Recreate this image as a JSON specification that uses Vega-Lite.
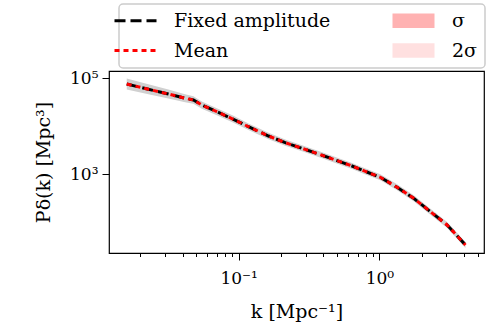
{
  "$schema": "https://vega.github.io/schema/vega-lite/v6.json",
  "width": 375,
  "height": 182,
  "autosize": {"type": "none"},
  "padding": {"left": 109, "top": 71, "right": 12, "bottom": 73},
  "background": "white",
  "config": {
    "view": {"stroke": "black", "strokeWidth": 1.2},
    "font": "DejaVu Serif"
  },
  "data": {
    "values": [
      {"k": 0.01601, "fixed": 74990, "mean": 74990, "lo": 57690, "hi": 97490},
      {"k": 0.02281, "fixed": 58210, "mean": 58210, "lo": 45830, "hi": 73930},
      {"k": 0.03165, "fixed": 46420, "mean": 46420, "lo": 37440, "hi": 57560},
      {"k": 0.04160, "fixed": 37790, "mean": 37790, "lo": 31230, "hi": 45730},
      {"k": 0.04768, "fixed": 34810, "mean": 34810, "lo": 29010, "hi": 41770},
      {"k": 0.05470, "fixed": 27380, "mean": 27380, "lo": 23010, "hi": 32580},
      {"k": 0.06995, "fixed": 19860, "mean": 19860, "lo": 16830, "hi": 23430},
      {"k": 0.09183, "fixed": 13800, "mean": 13800, "lo": 11690, "hi": 16280},
      {"k": 0.1174, "fixed": 9660, "mean": 9660, "lo": 8260, "hi": 11300},
      {"k": 0.1630, "fixed": 6190, "mean": 6190, "lo": 5310, "hi": 7210},
      {"k": 0.2143, "fixed": 4490, "mean": 4490, "lo": 3870, "hi": 5210},
      {"k": 0.2818, "fixed": 3430, "mean": 3430, "lo": 2970, "hi": 3960},
      {"k": 0.3698, "fixed": 2610, "mean": 2610, "lo": 2260, "hi": 3010},
      {"k": 0.4862, "fixed": 1958, "mean": 1958, "lo": 1695, "hi": 2260},
      {"k": 0.6393, "fixed": 1468, "mean": 1468, "lo": 1271, "hi": 1696},
      {"k": 0.7731, "fixed": 1172, "mean": 1172, "lo": 1015, "hi": 1354},
      {"k": 1.0165, "fixed": 853, "mean": 853, "lo": 739, "hi": 985},
      {"k": 1.337, "fixed": 528, "mean": 528, "lo": 457, "hi": 610},
      {"k": 1.754, "fixed": 312, "mean": 312, "lo": 270, "hi": 360},
      {"k": 2.307, "fixed": 164, "mean": 164, "lo": 142, "hi": 189},
      {"k": 3.033, "fixed": 86.6, "mean": 86.6, "lo": 75.0, "hi": 100.0},
      {"k": 4.094, "fixed": 33.2, "mean": 33.2, "lo": 28.7, "hi": 38.3}
    ]
  },
  "encoding": {
    "x": {
      "field": "k",
      "type": "quantitative",
      "scale": {"type": "log", "domain": [0.011975, 5.544], "nice": false},
      "axis": {
        "values": [0.02, 0.03, 0.04, 0.05, 0.06, 0.07, 0.08, 0.09, 0.1, 0.2, 0.3, 0.4, 0.5, 0.6, 0.7, 0.8, 0.9, 1, 2, 3, 4, 5],
        "labelExpr": "datum.value == 0.1 ? '10⁻¹' : (datum.value == 1 ? '10⁰' : '')",
        "tickSize": {"condition": {"test": "datum.value == 0.1 || datum.value == 1", "value": 7}, "value": 3.5},
        "domain": false,
        "grid": false,
        "tickColor": "black",
        "tickWidth": 1,
        "labelFont": "DejaVu Serif",
        "labelFontSize": 17,
        "labelColor": "black",
        "labelPadding": 10,
        "labelOverlap": false,
        "labelFlush": false,
        "labelBound": false,
        "title": "k [Mpc⁻¹]",
        "titleFont": "DejaVu Serif",
        "titleFontSize": 19,
        "titleFontWeight": "normal",
        "titleColor": "black",
        "titlePadding": 16
      }
    }
  },
  "layer": [
    {
      "mark": {"type": "area", "color": "#d0d0d0", "opacity": 1},
      "encoding": {
        "y": {
          "field": "lo",
          "type": "quantitative",
          "scale": {"type": "log", "domain": [22.6, 139960], "nice": false},
          "axis": {
            "values": [1000, 100000],
            "labelExpr": "datum.value == 1000 ? '10³' : '10⁵'",
            "tickSize": 7,
            "domain": false,
            "grid": false,
            "tickColor": "black",
            "tickWidth": 1,
            "labelFont": "DejaVu Serif",
            "labelFontSize": 17,
            "labelColor": "black",
            "labelPadding": 4,
            "labelBaseline": "middle",
            "labelOverlap": false,
            "labelFlush": false,
            "title": "Pδ(k) [Mpc³]",
            "titleFont": "DejaVu Serif",
            "titleFontSize": 19,
            "titleFontWeight": "normal",
            "titleColor": "black",
            "titleX": -66,
            "titleBaseline": "middle"
          }
        },
        "y2": {"field": "hi"}
      }
    },
    {
      "mark": {"type": "line", "strokeDash": [11, 5], "strokeWidth": 3},
      "encoding": {
        "y": {"field": "fixed", "type": "quantitative", "title": "Pδ(k) [Mpc³]"},
        "color": {
          "datum": "Fixed amplitude",
          "type": "nominal",
          "scale": {
            "domain": ["Fixed amplitude", "Mean", "σ", "2σ"],
            "range": ["#000000", "#ff0000", "#ffb2b2", "#ffe0e0"]
          },
          "legend": {
            "orient": "none",
            "legendX": 10,
            "legendY": -67,
            "title": null,
            "columns": 2,
            "columnPadding": 61,
            "rowPadding": 10,
            "padding": 7,
            "strokeColor": "#cccccc",
            "fillColor": "white",
            "cornerRadius": 4,
            "symbolType": "stroke",
            "symbolSize": 1764,
            "symbolStrokeWidth": 3,
            "labelFont": "DejaVu Serif",
            "labelFontSize": 19,
            "labelColor": "black",
            "labelOffset": 29,
            "labelLimit": 300,
            "encode": {
              "legend": {
                "update": {
                  "stroke": {"value": "#cccccc"},
                  "strokeWidth": {"value": 1.5},
                  "fill": {"value": "white"},
                  "cornerRadius": {"value": 4}
                }
              },
              "symbols": {
                "update": {
                  "shape": {"signal": "(datum.value == 'σ' || datum.value == '2σ') ? 'M-1,-0.34H1V0.34H-1Z' : 'stroke'"},
                  "fill": {"signal": "datum.value == 'σ' ? '#ffb2b2' : (datum.value == '2σ' ? '#ffe0e0' : 'transparent')"},
                  "stroke": {"signal": "datum.value == 'Fixed amplitude' ? '#000000' : (datum.value == 'Mean' ? '#ff0000' : 'transparent')"},
                  "strokeDash": {"signal": "datum.value == 'Fixed amplitude' ? [11, 5] : (datum.value == 'Mean' ? [5, 4] : [1, 0])"},
                  "strokeWidth": {"signal": "(datum.value == 'σ' || datum.value == '2σ') ? 0 : 3"},
                  "opacity": {"value": 1}
                }
              }
            }
          }
        }
      }
    },
    {
      "mark": {"type": "line", "strokeDash": [5, 4], "strokeWidth": 3},
      "encoding": {
        "y": {"field": "mean", "type": "quantitative", "title": "Pδ(k) [Mpc³]"},
        "color": {
          "datum": "Mean",
          "type": "nominal",
          "scale": {
            "domain": ["Fixed amplitude", "Mean", "σ", "2σ"],
            "range": ["#000000", "#ff0000", "#ffb2b2", "#ffe0e0"]
          }
        }
      }
    }
  ]
}
